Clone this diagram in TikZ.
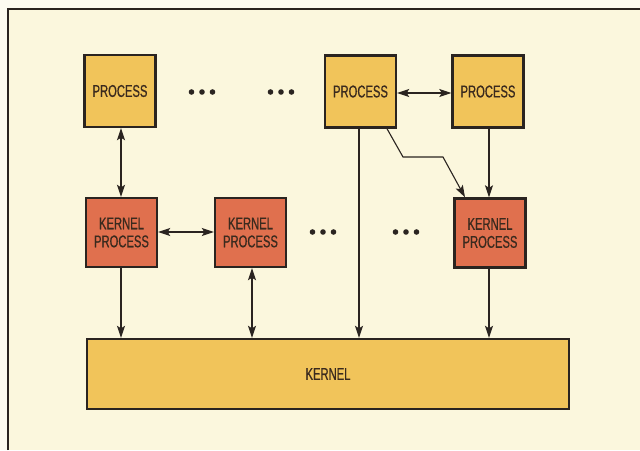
\documentclass[tikz,border=0pt]{standalone}
\usepackage{fontspec}
\newfontfamily\condfont[FakeStretch=0.66,FakeBold=0.6]{Liberation Sans}
\usetikzlibrary{arrows.meta}
\definecolor{outerbg}{HTML}{FDFBF0}
\definecolor{innerbg}{HTML}{FBF7DD}
\definecolor{procfill}{HTML}{F1C45A}
\definecolor{kpfill}{HTML}{E0704E}
\definecolor{inkc}{HTML}{2A2420}
\definecolor{txtc}{HTML}{3A2A1E}
\tikzset{
  boxbase/.style={draw=inkc, line width=2.4pt, text=txtc, align=center, inner sep=0pt,
    font=\condfont\fontsize{17}{18}\selectfont},
  procbox/.style={boxbase, fill=procfill, minimum width=71pt, minimum height=72pt},
  kpbox/.style={boxbase, fill=kpfill, minimum width=71pt, minimum height=69pt},
  kernbox/.style={boxbase, fill=procfill, minimum width=482pt, minimum height=70pt},
  tipa/.tip={Stealth[length=12pt,width=8pt,inset=2.5pt]},
  conn/.style={draw=inkc, line width=1.1pt, -tipa},
  bconn/.style={draw=inkc, line width=1.1pt, tipa-tipa},
  dotc/.style={fill=inkc}
}
\begin{document}
\begin{tikzpicture}[x=1pt,y=-1pt]
\useasboundingbox (0,0) rectangle (640,450);
\fill[outerbg] (0,0) rectangle (640,450);
\fill[innerbg] (8,9) rectangle (640,450);
\draw[inkc, line width=1.8pt] (8,450) -- (8,9) -- (640,9);

\node[procbox] (p1) at (120,91) {PROCESS};
\node[procbox] (p2) at (360.5,91.5) {PROCESS};
\node[procbox] (p3) at (488,91.5) {PROCESS};
\node[kpbox] (k1) at (121.5,232.5) {KERNEL\\PROCESS};
\node[kpbox] (k2) at (250.5,232.5) {KERNEL\\PROCESS};
\node[kpbox] (k3) at (490,233) {KERNEL\\PROCESS};
\node[kernbox] (kern) at (328,374) {KERNEL};

% dots
\foreach \cx/\cy in {202/92, 281/92, 323/232, 406/232}{
  \foreach \dx in {-10.5,0,10.5}{
    \fill[dotc] (\cx+\dx,\cy) circle (2.8pt);
  }
}

% connectors
\draw[bconn] (p1.south -| 121,0) -- (k1.north -| 121,0);
\draw[bconn] (k1.east |- 0,232) -- (k2.west |- 0,232);
\draw[bconn] (p2.east |- 0,93) -- (p3.west |- 0,93);
\draw[conn] (k1.south -| 121,0) -- (kern.north -| 121,0);
\draw[bconn] (kern.north -| 252,0) -- (k2.south -| 252,0);
\draw[conn] (p2.south -| 359,0) -- (kern.north -| 359,0);
\draw[conn] (p3.south -| 489,0) -- (k3.north -| 489,0);
\draw[conn] (k3.south -| 489,0) -- (kern.north -| 489,0);
\coordinate (bend1) at (403,157);
\coordinate (bend2) at (443,157);
\draw[conn] (p2.south -| 387,0) -- (bend1) -- (bend2) -- (k3.north -| 465,0);
\end{tikzpicture}
\end{document}
